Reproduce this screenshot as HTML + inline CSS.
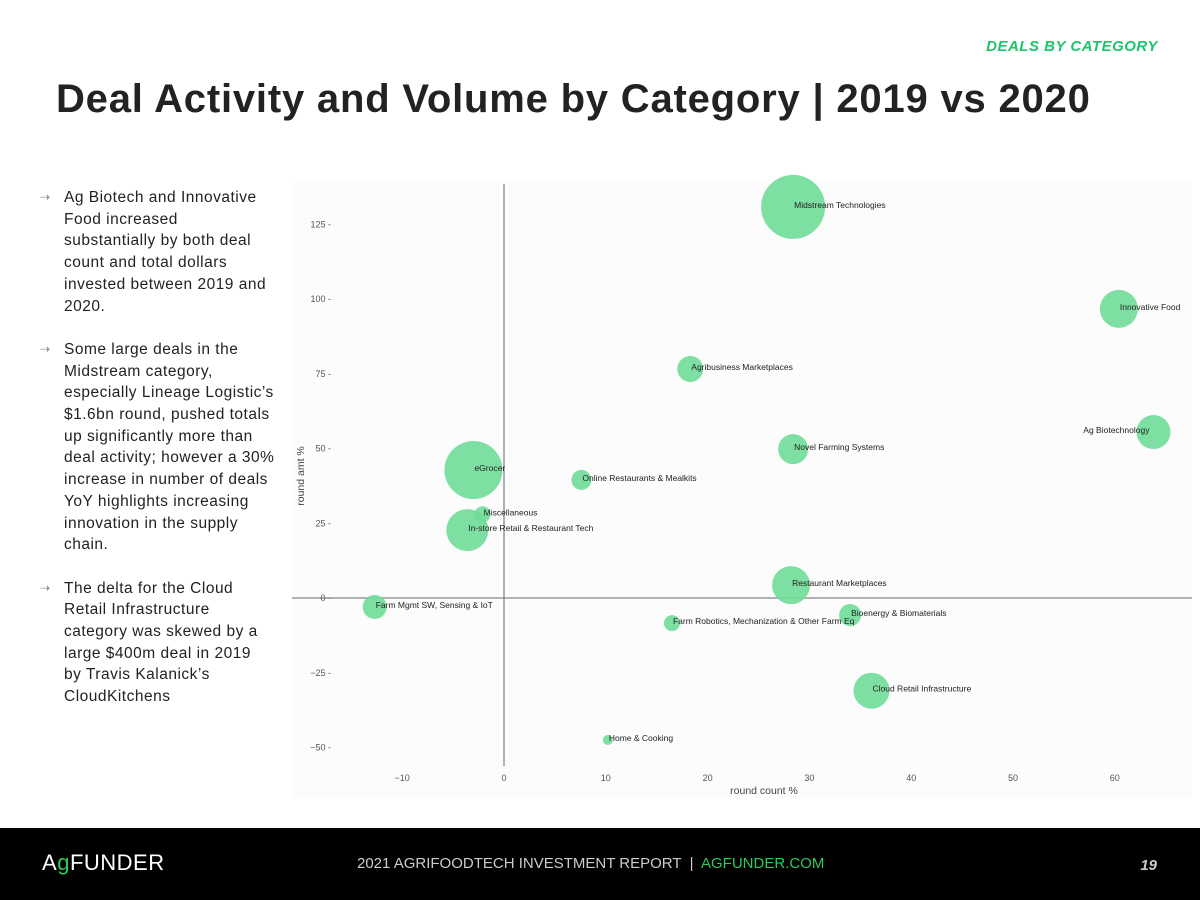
<!DOCTYPE html>
<html><head><meta charset="utf-8"><style>
body{margin:0;width:1200px;height:900px;position:relative;background:#fff;font-family:"Liberation Sans",sans-serif;overflow:hidden}
.tag{position:absolute;right:42px;top:38px;color:#1ec46a;font-weight:bold;font-style:italic;font-size:15px;letter-spacing:.5px}
h1{position:absolute;left:56px;top:77px;margin:0;font-size:40px;font-weight:bold;color:#222;letter-spacing:.8px;white-space:nowrap}
.bul{position:absolute;left:40px;top:187px;width:260px;font-size:15.5px;line-height:21.7px;color:#222;letter-spacing:.5px;white-space:nowrap}
.bul p{margin:0 0 21.7px 24px;position:relative}
.bul p:before{content:"⇢";position:absolute;left:-24px;color:#888;font-size:12px}
.foot{position:absolute;left:0;top:828px;width:1200px;height:72px;background:#000}
</style></head><body>
<div class="tag">DEALS BY CATEGORY</div>
<h1>Deal Activity and Volume by Category | 2019 vs 2020</h1>
<div class="bul">
<p>Ag Biotech and Innovative<br>Food increased<br>substantially by both deal<br>count and total dollars<br>invested between 2019 and<br>2020.</p>
<p>Some large deals in the<br>Midstream category,<br>especially Lineage Logistic’s<br>$1.6bn round, pushed totals<br>up significantly more than<br>deal activity; however a 30%<br>increase in number of deals<br>YoY highlights increasing<br>innovation in the supply<br>chain.</p>
<p>The delta for the Cloud<br>Retail Infrastructure<br>category was skewed by a<br>large $400m deal in 2019<br>by Travis Kalanick’s<br>CloudKitchens</p>
</div>
<svg id="chart" style="position:absolute;left:0;top:0" width="1200" height="828"></svg>
<div class="foot">
<div style="position:absolute;left:42px;top:22px;color:#fff;font-size:22px;letter-spacing:.5px">A<span style="color:#2ec95c">g</span>FUNDER</div>
<div style="position:absolute;left:357px;top:27px;color:#ccc;font-size:15px">2021 AGRIFOODTECH INVESTMENT REPORT &nbsp;|&nbsp; <span style="color:#2ec95c">AGFUNDER.COM</span></div>
<div style="position:absolute;right:43px;top:29px;color:#ccc;font-size:15px;font-weight:bold;font-style:italic">19</div>
</div>
<script>
const names=["Midstream Technologies","Innovative Food","Agribusiness Marketplaces","Ag Biotechnology","Novel Farming Systems","eGrocer","Online Restaurants & Mealkits","Miscellaneous","In-store Retail & Restaurant Tech","Restaurant Marketplaces","Farm Mgmt SW, Sensing & IoT","Bioenergy & Biomaterials","Farm Robotics, Mechanization & Other Farm Eq","Cloud Retail Infrastructure","Home & Cooking"];
const roundCount=[28.4,60.4,18.3,63.8,28.4,-3.0,7.6,-2.1,-3.6,28.2,-12.7,34.0,16.5,36.1,10.2];
const roundAmt=[130.8,96.7,76.6,55.5,49.8,42.8,39.5,28.0,22.7,4.3,-3.0,-5.7,-8.4,-31.0,-47.5];
const bubbleSize=[1024,361,169,289,225,841,100,64,441,361,144,121,64,324,25];
const xTicks=[-10,0,10,20,30,40,50,60];
const yTicks=[-50,-25,0,25,50,75,100,125];
const X=v=>504+10.18*v, Y=v=>598-2.99*v, R=s=>Math.sqrt(s);
const svg=document.getElementById('chart'),NS='http://www.w3.org/2000/svg';
function mk(t,a,p){const e=document.createElementNS(NS,t);for(const k in a)e.setAttribute(k,a[k]);(p||svg).appendChild(e);return e;}
const bg=mk('rect',{x:292,y:180,width:900,height:618,fill:'#fcfcfc'});


const ya=mk('line',{x1:X(0),x2:X(0),y1:184,y2:766,stroke:'#666','stroke-width':1});


const xa=mk('line',{x1:292,x2:1192,y1:Y(0),y2:Y(0),stroke:'#666','stroke-width':1});


xTicks.forEach(t=>{const e=mk('text',{x:X(t),y:781,'text-anchor':'middle','font-size':9,fill:'#555'});e.textContent=t<0?'−'+(-t):t;

});
yTicks.forEach(t=>{const e=mk('text',{x:331,y:Y(t)+3,'text-anchor':'end','font-size':9,fill:'#555'});e.textContent=(t<0?'−'+(-t):t)+' -';

});
const xt=mk('text',{x:764,y:794,'text-anchor':'middle','font-size':10.5,fill:'#444'});xt.textContent='round count %';


const yt=mk('text',{x:304,y:476,'text-anchor':'middle','font-size':10.5,fill:'#444',transform:'rotate(-90 304 476)'});yt.textContent='round amt %';


names.forEach((n,i)=>{
const c=mk('circle',{cx:X(roundCount[i]),cy:Y(roundAmt[i]),r:R(bubbleSize[i]),fill:'#6fdb98','fill-opacity':0.9});


});
names.forEach((n,i)=>{
const right=roundCount[i]>62;
const l=mk('text',{x:X(roundCount[i])+(right?-4:1),y:Y(roundAmt[i])+1,'text-anchor':right?'end':'start','font-size':8.5,fill:'#222'});l.textContent=n;


});
</script>
</body></html>
